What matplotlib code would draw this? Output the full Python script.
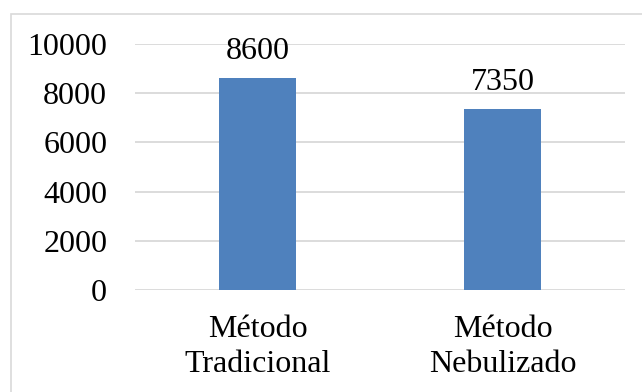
import matplotlib
matplotlib.use("Agg")
import matplotlib.pyplot as plt
from matplotlib.patches import Rectangle

# data
categories = ["Método\nTradicional", "Método\nNebulizado"]
values = [8600, 7350]
yticks = [0, 2000, 4000, 6000, 8000, 10000]

BAR = "#4f81bd"
GRID = "#d9d9d9"
FONT = "Liberation Serif"
FS = 23

plt.rcParams["font.family"] = FONT

fig = plt.figure(figsize=(6.42, 3.92), dpi=100)
ax = fig.add_axes([0.2103, 0.2602, 0.7632, 0.6276])

# chart-area border (cut off at right/bottom like the reference)
fig.patches.append(Rectangle((11 / 642, -0.05), 1.0, 1 - 14 / 392 + 0.05,
                             transform=fig.transFigure, fill=False,
                             edgecolor=GRID, linewidth=1.2))

x = range(len(categories))
bars = ax.bar(x, values, width=0.314, color=BAR, zorder=3)

for b, v in zip(bars, values):
    ax.annotate(f"{v}", (b.get_x() + b.get_width() / 2, v),
                xytext=(0, 13.7), textcoords="offset points",
                ha="center", va="baseline", fontsize=FS)

ax.set_xlim(-0.5, 1.5)
ax.set_ylim(0, 10000)
ax.set_yticks(yticks)
ax.set_yticklabels([str(t) for t in yticks], fontsize=FS)
ax.set_xticks(list(x))
ax.set_xticklabels(categories, fontsize=FS, linespacing=1.25)
ax.tick_params(axis="y", length=0, pad=20)
ax.tick_params(axis="x", length=0, pad=18)
ax.grid(axis="y", color=GRID, linewidth=1.3, zorder=0)
for s in ax.spines.values():
    s.set_visible(False)

fig.savefig("out.png", dpi=100)
